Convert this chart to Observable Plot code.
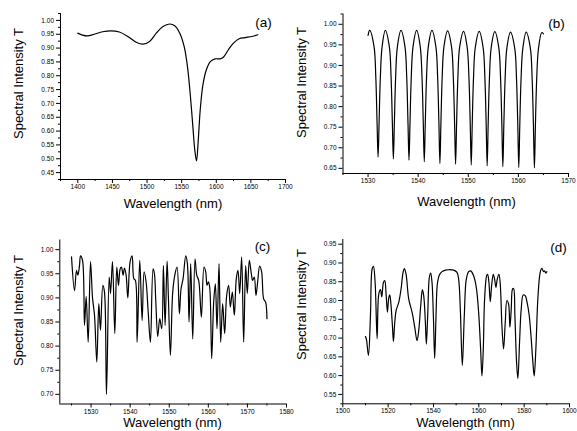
<!DOCTYPE html>
<html>
<head>
<meta charset="utf-8">
<script src="https://cdn.jsdelivr.net/npm/d3@7"></script>
<script src="https://cdn.jsdelivr.net/npm/@observablehq/plot@0.6"></script>
<style>
  html, body { margin: 0; padding: 0; background: #fff; }
  #wrap { position: relative; width: 577px; height: 431px; overflow: hidden; background: #fff; }
  #wrap svg { position: absolute; }
</style>
</head>
<body>
<div id="wrap"></div>
<script>
// ---------- Panel (a) ----------
const aWavelength = [1400, 1406.8, 1414, 1423.7, 1435.9, 1448, 1460, 1472.2, 1484.3, 1494, 1503.7, 1513.4, 1523, 1532.7, 1540, 1547.3, 1553.6, 1558.4, 1562.3, 1566.2, 1569, 1571.5, 1574, 1576.8, 1580.7, 1585.6, 1591.4, 1598.2, 1605.4, 1610.3, 1617.5, 1624.8, 1633, 1641.8, 1651.5, 1660];
const aIntensity = [0.954, 0.947, 0.944, 0.950, 0.959, 0.9625, 0.958, 0.942, 0.921, 0.914, 0.924, 0.954, 0.978, 0.987, 0.981, 0.954, 0.906, 0.833, 0.736, 0.616, 0.531, 0.492, 0.567, 0.676, 0.767, 0.821, 0.851, 0.861, 0.861, 0.867, 0.894, 0.918, 0.934, 0.938, 0.942, 0.948];
const aXTicks = [1400, 1450, 1500, 1550, 1600, 1650, 1700];
const aXMinor = [1375, 1425, 1475, 1525, 1575, 1625, 1675];
const aYTicks = [0.45, 0.50, 0.55, 0.60, 0.65, 0.70, 0.75, 0.80, 0.85, 0.90, 0.95, 1.00];
const aYMinor = [0.425, 0.475, 0.525, 0.575, 0.625, 0.675, 0.725, 0.775, 0.825, 0.875, 0.925, 0.975, 1.025];

// ---------- Panel (b) ----------
const bWavelength = [1530.00, 1530.33,
  1531.20, 1531.55, 1531.80, 1532.00, 1532.20, 1532.45, 1532.80, 1533.45,
  1534.25, 1534.60, 1534.85, 1535.05, 1535.25, 1535.50, 1535.85, 1536.57,
  1537.37, 1537.72, 1537.97, 1538.17, 1538.37, 1538.62, 1538.97, 1539.70,
  1540.42, 1540.77, 1541.02, 1541.22, 1541.42, 1541.67, 1542.02, 1542.75,
  1543.54, 1543.89, 1544.14, 1544.34, 1544.54, 1544.79, 1545.14, 1545.87,
  1546.67, 1547.02, 1547.27, 1547.47, 1547.67, 1547.92, 1548.27, 1549.06,
  1549.79, 1550.14, 1550.39, 1550.59, 1550.79, 1551.04, 1551.39, 1552.18,
  1552.97, 1553.32, 1553.57, 1553.77, 1553.97, 1554.22, 1554.57, 1555.30,
  1556.10, 1556.45, 1556.70, 1556.90, 1557.10, 1557.35, 1557.70, 1558.42,
  1559.28, 1559.63, 1559.88, 1560.08, 1560.28, 1560.53, 1560.88, 1561.55,
  1562.40, 1562.75, 1563.00, 1563.20, 1563.40, 1563.65, 1564.00, 1564.67, 1565.00];
const bIntensity = [0.973, 0.985,
  0.945, 0.870, 0.760, 0.677, 0.760, 0.870, 0.945, 0.985,
  0.945, 0.870, 0.760, 0.673, 0.760, 0.870, 0.945, 0.985,
  0.945, 0.870, 0.760, 0.670, 0.760, 0.870, 0.945, 0.985,
  0.945, 0.870, 0.760, 0.666, 0.760, 0.870, 0.945, 0.985,
  0.945, 0.870, 0.760, 0.662, 0.760, 0.870, 0.945, 0.984,
  0.944, 0.869, 0.759, 0.660, 0.759, 0.869, 0.944, 0.983,
  0.943, 0.868, 0.758, 0.658, 0.758, 0.868, 0.943, 0.983,
  0.943, 0.868, 0.758, 0.656, 0.758, 0.868, 0.943, 0.982,
  0.942, 0.867, 0.757, 0.654, 0.757, 0.867, 0.942, 0.981,
  0.941, 0.866, 0.756, 0.652, 0.756, 0.866, 0.941, 0.981,
  0.941, 0.866, 0.756, 0.651, 0.756, 0.866, 0.940, 0.980, 0.977];
const bXTicks = [1530, 1540, 1550, 1560, 1570];
const bXMinor = [1525, 1535, 1545, 1555, 1565];
const bYTicks = [0.65, 0.70, 0.75, 0.80, 0.85, 0.90, 0.95, 1.00];
const bYMinor = [0.675, 0.725, 0.775, 0.825, 0.875, 0.925, 0.975, 1.025];

// ---------- Panel (c) ----------
const cWavelength = [1525.00,1525.77,1526.28,1526.62,1527.04,1527.30,1527.81,1528.32,1528.75,1529.26,
  1529.86,1530.37,1530.88,1531.47,1531.98,1532.41,1533.01,1533.43,1533.94,1534.63,
  1534.97,1535.48,1536.07,1536.58,1537.01,1537.44,1537.78,1538.20,1538.54,1538.97,
  1539.40,1539.99,1540.50,1540.93,1541.35,1541.78,1542.46,1543.06,1543.57,1544.08,
  1544.59,1545.19,1545.87,1546.21,1546.55,1547.06,1547.57,1548.08,1548.51,1548.94,
  1549.45,1549.79,1550.30,1550.89,1551.49,1552.00,1552.60,1553.02,1553.54,1554.22,
  1554.64,1555.07,1555.49,1556.01,1556.60,1557.03,1557.54,1558.22,1558.90,1559.33,
  1559.67,1560.01,1560.35,1560.86,1561.37,1561.80,1562.22,1562.74,1563.16,1563.67,
  1564.18,1564.69,1565.20,1565.63,1566.14,1566.65,1567.16,1567.59,1568.02,1568.53,
  1569.04,1569.55,1569.97,1570.49,1571.00,1571.34,1571.76,1572.19,1572.62,1573.13,
  1573.64,1574.15,1574.66,1575.00];
const cIntensity = [0.985,0.915,0.957,0.947,0.967,0.987,0.978,0.843,0.903,0.808,
  0.975,0.900,0.864,0.767,0.888,0.833,0.926,0.912,0.700,0.943,
  0.909,0.975,0.826,0.964,0.926,0.960,0.964,0.947,0.962,0.947,
  0.900,0.975,0.987,0.940,0.936,0.808,0.978,0.853,0.954,0.933,
  0.874,0.808,0.960,0.950,0.895,0.820,0.857,0.836,0.967,0.843,
  0.976,0.900,0.781,0.912,0.950,0.964,0.867,0.919,0.940,0.987,
  0.971,0.850,0.971,0.815,0.981,0.947,0.936,0.860,0.964,0.954,
  0.926,0.933,0.922,0.774,0.891,0.929,0.836,0.971,0.808,0.888,
  0.826,0.905,0.926,0.881,0.912,0.864,0.940,0.957,0.909,0.985,
  0.808,0.967,0.909,0.978,0.950,0.936,0.943,0.905,0.933,0.966,
  0.954,0.898,0.891,0.857];
const cXTicks = [1530, 1540, 1550, 1560, 1570, 1580];
const cXMinor = [1525, 1535, 1545, 1555, 1565, 1575];
const cYTicks = [0.70, 0.75, 0.80, 0.85, 0.90, 0.95, 1.00];
const cYMinor = [0.725, 0.775, 0.825, 0.875, 0.925, 0.975];

// ---------- Panel (d) ----------
const dWavelength = [1510.00,1510.44,1511.32,1512.20,1512.94,1513.52,1514.26,1515.14,1515.87,1516.61,
  1517.19,1517.93,1518.51,1519.10,1519.69,1520.28,1520.72,1521.16,1521.89,1522.33,
  1522.92,1523.51,1524.68,1525.71,1526.59,1527.18,1527.91,1529.08,1530.55,1531.73,
  1532.75,1533.49,1534.37,1535.10,1535.69,1536.42,1536.86,1537.45,1538.19,1538.77,
  1539.36,1539.95,1540.53,1541.12,1541.71,1542.59,1543.76,1545.23,1546.70,1548.90,
  1550.37,1551.10,1551.84,1552.72,1553.60,1554.48,1555.51,1556.39,1557.71,1558.88,
  1559.91,1560.79,1561.38,1561.97,1562.55,1563.44,1563.88,1564.46,1565.05,1565.64,
  1566.37,1566.96,1567.55,1568.13,1568.87,1569.45,1570.19,1570.92,1571.66,1572.39,
  1573.12,1573.71,1574.30,1574.89,1575.33,1575.91,1576.65,1577.23,1577.97,1578.70,
  1579.58,1580.46,1581.34,1582.23,1583.11,1583.84,1584.43,1585.16,1586.04,1587.07,
  1587.80,1588.54,1588.98,1589.57,1590.00];
const dIntensity = [0.704,0.696,0.654,0.760,0.884,0.891,0.848,0.698,0.817,0.829,
  0.810,0.848,0.853,0.817,0.769,0.808,0.815,0.795,0.733,0.691,
  0.742,0.773,0.795,0.831,0.875,0.885,0.870,0.804,0.769,0.729,
  0.693,0.720,0.786,0.829,0.813,0.742,0.684,0.760,0.862,0.873,
  0.848,0.760,0.646,0.760,0.844,0.868,0.877,0.881,0.882,0.881,
  0.875,0.857,0.777,0.627,0.760,0.857,0.877,0.879,0.866,0.835,
  0.769,0.671,0.599,0.671,0.804,0.866,0.870,0.848,0.797,0.839,
  0.870,0.857,0.835,0.857,0.870,0.844,0.733,0.671,0.742,0.800,
  0.791,0.729,0.777,0.831,0.832,0.760,0.636,0.592,0.689,0.777,
  0.815,0.813,0.794,0.760,0.698,0.636,0.599,0.671,0.804,0.875,
  0.886,0.877,0.879,0.873,0.877];
const dXTicks = [1500, 1520, 1540, 1560, 1580, 1600];
const dXMinor = [1510, 1530, 1550, 1570, 1590];
const dYTicks = [0.55, 0.60, 0.65, 0.70, 0.75, 0.80, 0.85, 0.90, 0.95];
const dYMinor = [0.525, 0.575, 0.625, 0.675, 0.725, 0.775, 0.825, 0.875, 0.925];

const xTitle = "Wavelength (nm)";
const yTitle = "Spectral Intensity T";
const tags = ["(a)", "(b)", "(c)", "(d)"];

const FONT = "'Liberation Sans', Arial, Helvetica, sans-serif";

function panel(p) {
  const ml = p.fL - p.left, mr = p.left + p.w - p.fR;
  const mt = p.fT - p.top, mb = p.top + p.h - p.fB;
  const at = (gx, gy) => ({frameAnchor: "top-left", dx: gx - p.fL, dy: gy - p.fT});
  const rows = p.xs.map((x, i) => ({x, y: p.ys[i]}));
  const fmt2 = d3.format(".2f");
  const svg = Plot.plot({
    width: p.w, height: p.h,
    marginLeft: ml, marginRight: mr, marginTop: mt, marginBottom: mb,
    style: {fontFamily: FONT, background: "transparent", overflow: "visible", color: "#000"},
    x: {domain: p.xDomain},
    y: {domain: p.yDomain},
    marks: [
      Plot.axisX({ticks: p.xTicks, tickSize: 4, tickPadding: 1, tickFormat: d => String(d), fontSize: 6.5, label: null}),
      Plot.axisX({ticks: p.xMinor, tickSize: 2, tickFormat: () => "", label: null}),
      Plot.axisY({ticks: p.yTicks, tickSize: 4, tickPadding: 2.5, tickFormat: fmt2, fontSize: 6.5, label: null}),
      Plot.axisY({ticks: p.yMinor, tickSize: 2, tickFormat: () => "", label: null}),
      Plot.ruleX([p.xDomain[0]], {stroke: "#000", strokeWidth: 1}),
      Plot.ruleY([p.yDomain[0]], {stroke: "#000", strokeWidth: 1}),
      Plot.line(rows, {x: "x", y: "y", curve: "catmull-rom", stroke: "#000", strokeWidth: 1.2}),
      Plot.text([xTitle], {...at(p.xt[0], p.xt[1]), text: d => d, fontSize: 13, textAnchor: "middle", lineAnchor: "middle", fill: "#000"}),
      Plot.text([yTitle], {...at(p.yt[0], p.yt[1]), text: d => d, fontSize: 13, textAnchor: "middle", lineAnchor: "middle", rotate: -90, fill: "#000"}),
      Plot.text([p.tag], {...at(p.tg[0], p.tg[1]), text: d => d, fontSize: 13.5, textAnchor: "middle", lineAnchor: "middle", fill: "#000"})
    ]
  });
  svg.style.left = p.left + "px";
  svg.style.top = p.top + "px";
  return svg;
}

const wrap = document.getElementById("wrap");
wrap.appendChild(panel({left: 0, top: 0, w: 288, h: 215, fL: 60, fR: 285, fT: 13, fB: 179,
  xDomain: [1375, 1700], yDomain: [0.425, 1.025], xs: aWavelength, ys: aIntensity,
  xTicks: aXTicks, xMinor: aXMinor, yTicks: aYTicks, yMinor: aYMinor,
  xt: [172.5, 203], yt: [18, 83], tag: tags[0], tg: [263, 22]}));
wrap.appendChild(panel({left: 288, top: 0, w: 289, h: 215, fL: 342.5, fR: 568, fT: 13.5, fB: 173,
  xDomain: [1525, 1570], yDomain: [0.6375, 1.025], xs: bWavelength, ys: bIntensity,
  xTicks: bXTicks, xMinor: bXMinor, yTicks: bYTicks, yMinor: bYMinor,
  xt: [466, 201], yt: [301, 82], tag: tags[1], tg: [556, 23]}));
wrap.appendChild(panel({left: 0, top: 215, w: 288, h: 216, fL: 59.3, fR: 286, fT: 239.5, fB: 403.5,
  xDomain: [1522, 1580], yDomain: [0.68, 1.02], xs: cWavelength, ys: cIntensity,
  xTicks: cXTicks, xMinor: cXMinor, yTicks: cYTicks, yMinor: cYMinor,
  xt: [172, 422.5], yt: [18.3, 310], tag: tags[2], tg: [262, 246]}));
wrap.appendChild(panel({left: 288, top: 215, w: 289, h: 216, fL: 342.3, fR: 569, fT: 239, fB: 403.3,
  xDomain: [1500, 1600], yDomain: [0.525, 0.9625], xs: dWavelength, ys: dIntensity,
  xTicks: dXTicks, xMinor: dXMinor, yTicks: dYTicks, yMinor: dYMinor,
  xt: [465, 422.5], yt: [301.3, 304], tag: tags[3], tg: [558, 247]}));
</script>
</body>
</html>
